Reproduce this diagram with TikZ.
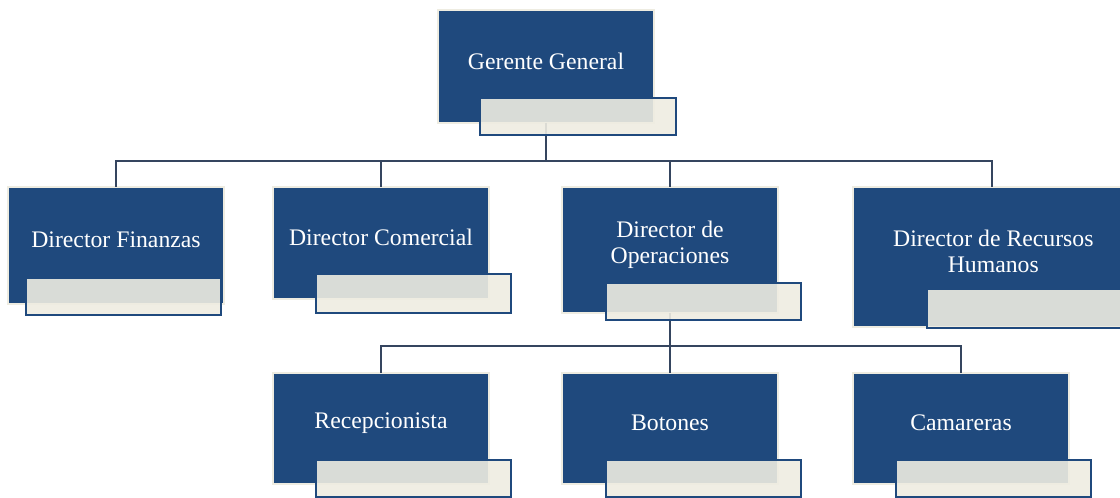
\documentclass[tikz,border=0pt]{standalone}
\usepackage{fontspec}
\setmainfont{Liberation Serif}
\begin{document}
\begin{tikzpicture}[x=0.75pt, y=-0.75pt,
  jefe/.style = {fill=azul, draw=crema, line width=1.5pt, inner sep=0pt, outer sep=0pt},
  etiqueta/.style = {fill=crema, fill opacity=0.9, draw=azul, line width=1.3pt, inner sep=0pt, outer sep=0pt},
  texto/.style = {text=white, font=\fontsize{17.8}{19.5}\selectfont, align=center, yshift=4pt},
  linea/.style = {draw=gris, line width=1.8pt}]
\definecolor{azul}{HTML}{1F497D}
\definecolor{crema}{HTML}{EEECE1}
\definecolor{gris}{HTML}{35455F}
\useasboundingbox (0,0) rectangle (1120,498);
\clip (0,0) rectangle (1120,498);
% buses
\coordinate (bus1) at (546,161);
\coordinate (bus2) at (670,346);
% first level
\node[jefe, minimum width=216*0.75pt, minimum height=113*0.75pt, label={[texto]center:Gerente General}] (ger) at (546,66.5) {};
\node[jefe, minimum width=216*0.75pt, minimum height=117*0.75pt, label={[texto]center:Director Finanzas}] (fin) at (116,245.5) {};
\node[jefe, minimum width=216*0.75pt, minimum height=112*0.75pt, label={[texto]center:Director Comercial}] (com) at (381,243) {};
\node[jefe, minimum width=216*0.75pt, minimum height=126*0.75pt, label={[texto]center:Director de\\Operaciones}] (ope) at (670,250) {};
\node[jefe, minimum width=278*0.75pt, minimum height=140*0.75pt, label={[texto, xshift=1pt]center:Director de Recursos\\Humanos}] (rrhh) at (992,257) {};
% second level
\node[jefe, minimum width=216*0.75pt, minimum height=111*0.75pt, label={[texto]center:Recepcionista}] (rec) at (381,428.5) {};
\node[jefe, minimum width=216*0.75pt, minimum height=111*0.75pt, label={[texto]center:Botones}] (bot) at (670,428.5) {};
\node[jefe, minimum width=216*0.75pt, minimum height=111*0.75pt, label={[texto]center:Camareras}] (cam) at (961,428.5) {};
% connectors
\draw[linea] (ger.south) -- (bus1);
\draw[linea] (bus1) -| (fin.north);
\draw[linea] (bus1) -| (com.north);
\draw[linea] (bus1) -| (ope.north);
\draw[linea] (bus1) -| (rrhh.north);
\draw[linea] (ope.south) -- (bus2);
\draw[linea] (bus2) -| (rec.north);
\draw[linea] (bus2) -| (bot.north);
\draw[linea] (bus2) -| (cam.north);
% text boxes
\node[etiqueta, minimum width=196*0.75pt, minimum height=37*0.75pt] (ger-e) at (578,116.5) {};
\node[etiqueta, minimum width=195*0.75pt, minimum height=37*0.75pt] (fin-e) at (123.5,296.5) {};
\node[etiqueta, minimum width=195*0.75pt, minimum height=39*0.75pt] (com-e) at (413.5,293.5) {};
\node[etiqueta, minimum width=195*0.75pt, minimum height=37*0.75pt] (ope-e) at (703.5,301.5) {};
\node[etiqueta, minimum width=223*0.75pt, minimum height=39*0.75pt] (rrhh-e) at (1038.5,308.5) {};
\node[etiqueta, minimum width=195*0.75pt, minimum height=37*0.75pt] (rec-e) at (413.5,478.5) {};
\node[etiqueta, minimum width=195*0.75pt, minimum height=37*0.75pt] (bot-e) at (703.5,478.5) {};
\node[etiqueta, minimum width=195*0.75pt, minimum height=37*0.75pt] (cam-e) at (993.5,478.5) {};
\end{tikzpicture}
\end{document}
